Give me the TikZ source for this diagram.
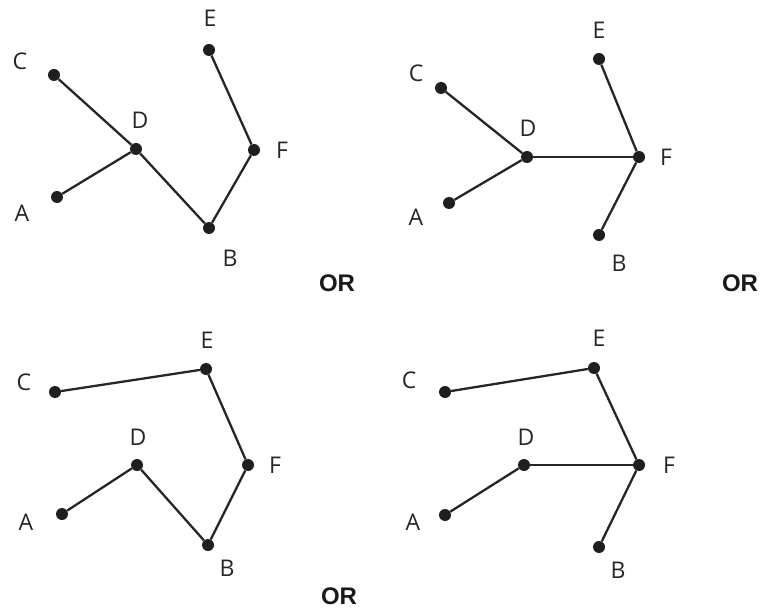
\documentclass[tikz,border=0pt]{standalone}
\usepackage{fontspec}
\setmainfont{Open Sans}
\newfontfamily\orfont{Liberation Sans}
\tikzset{
	vertex/.style = {shape=circle, fill=black!88, draw=none,
		inner sep=0pt, minimum size=12pt},
	letter/.style = {font=\fontsize{23}{25}\selectfont, text=black!85,
		inner sep=0pt, anchor=center},
	edge/.style   = {line width=2.3pt, draw=black!85},
	ortext/.style = {font=\orfont\bfseries\fontsize{24}{26}\selectfont,
		text=black!90, inner sep=0pt}
}

\begin{document}
\begin{tikzpicture}[x=1pt, y=-1pt]
	\useasboundingbox (0,0) rectangle (762,609);
	% first tree
	\node [vertex] at (54,75) (c1) {};
	\node [vertex] at (209,50) (e1) {};
	\node [vertex] at (136,149) (d1) {};
	\node [vertex] at (254,150) (f1) {};
	\node [vertex] at (57,197) (a1) {};
	\node [vertex] at (209,228) (b1) {};
	\node [letter] at (20,61) (lc1) {C};
	\node [letter] at (210,18) (le1) {E};
	\node [letter] at (140,120) (ld1) {D};
	\node [letter] at (282,150) (lf1) {F};
	\node [letter] at (22,213) (la1) {A};
	\node [letter] at (230,258) (lb1) {B};
	\draw [edge] (c1) -- (d1);
	\draw [edge] (a1) -- (d1);
	\draw [edge] (d1) -- (b1);
	\draw [edge] (b1) -- (f1);
	\draw [edge] (f1) -- (e1);
	\node [ortext] at (337,283) (or1) {OR};
	% second tree
	\node [vertex] at (441,88) (c2) {};
	\node [vertex] at (599,59) (e2) {};
	\node [vertex] at (527,157) (d2) {};
	\node [vertex] at (639,157) (f2) {};
	\node [vertex] at (449,203) (a2) {};
	\node [vertex] at (599,235) (b2) {};
	\node [letter] at (416,73) (lc2) {C};
	\node [letter] at (599,30) (le2) {E};
	\node [letter] at (528,128) (ld2) {D};
	\node [letter] at (666,157) (lf2) {F};
	\node [letter] at (416,217) (la2) {A};
	\node [letter] at (619,263) (lb2) {B};
	\draw [edge] (c2) -- (d2);
	\draw [edge] (a2) -- (d2);
	\draw [edge] (d2) -- (f2);
	\draw [edge] (e2) -- (f2);
	\draw [edge] (f2) -- (b2);
	\node [ortext] at (740,283) (or2) {OR};
	% third tree
	\node [vertex] at (55,392) (c3) {};
	\node [vertex] at (206,369) (e3) {};
	\node [vertex] at (137,465) (d3) {};
	\node [vertex] at (248,465) (f3) {};
	\node [vertex] at (62,514) (a3) {};
	\node [vertex] at (208,545) (b3) {};
	\node [letter] at (24,382) (lc3) {C};
	\node [letter] at (207,340) (le3) {E};
	\node [letter] at (138,437) (ld3) {D};
	\node [letter] at (275,465) (lf3) {F};
	\node [letter] at (26,522) (la3) {A};
	\node [letter] at (227,568) (lb3) {B};
	\draw [edge] (c3) -- (e3);
	\draw [edge] (e3) -- (f3);
	\draw [edge] (f3) -- (b3);
	\draw [edge] (b3) -- (d3);
	\draw [edge] (d3) -- (a3);
	\node [ortext] at (339,596) (or3) {OR};
	% fourth tree
	\node [vertex] at (445,392) (c4) {};
	\node [vertex] at (594,368) (e4) {};
	\node [vertex] at (524,465) (d4) {};
	\node [vertex] at (639,465) (f4) {};
	\node [vertex] at (445,515) (a4) {};
	\node [vertex] at (599,547) (b4) {};
	\node [letter] at (409,380) (lc4) {C};
	\node [letter] at (599,338) (le4) {E};
	\node [letter] at (526,437) (ld4) {D};
	\node [letter] at (669,465) (lf4) {F};
	\node [letter] at (413,522) (la4) {A};
	\node [letter] at (618,570) (lb4) {B};
	\draw [edge] (c4) -- (e4);
	\draw [edge] (e4) -- (f4);
	\draw [edge] (d4) -- (f4);
	\draw [edge] (a4) -- (d4);
	\draw [edge] (f4) -- (b4);
\end{tikzpicture}
\end{document}
